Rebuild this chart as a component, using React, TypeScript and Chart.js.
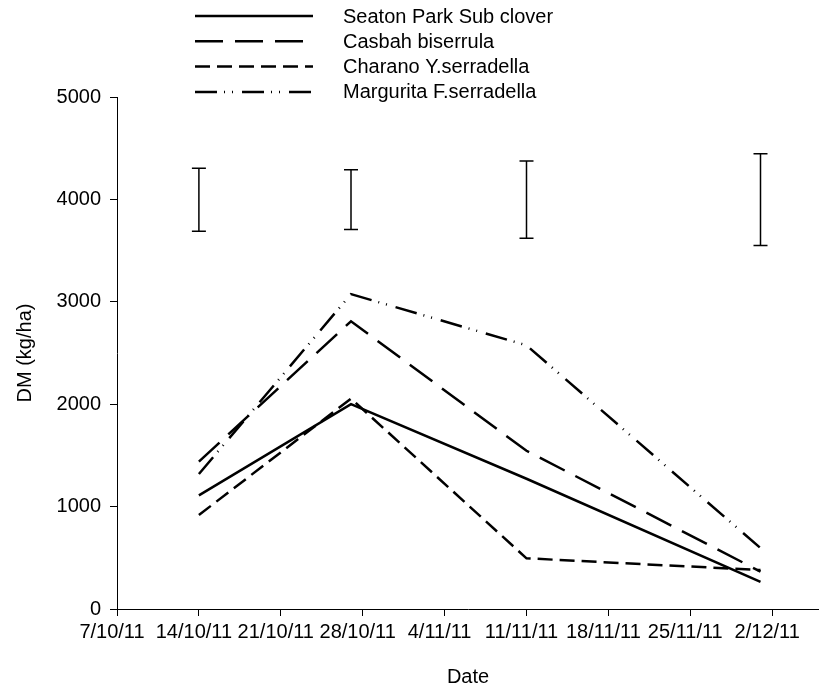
import React, { useEffect, useRef } from "react";
import { Chart, registerables } from "chart.js";

Chart.register(...registerables);

// ---- data ----
const axisStartDate = "7/10/11";
const axisEndDate = "6/12/11";
const xTickDates = ["7/10/11", "14/10/11", "21/10/11", "28/10/11", "4/11/11", "11/11/11", "18/11/11", "25/11/11", "2/12/11"];
const yTickValues = [0, 1000, 2000, 3000, 4000, 5000];
const sampleDates = ["14/10/11", "27/10/11", "11/11/11", "1/12/11"];

const seatonParkSubClover = [1110, 2000, 1272, 265];
const casbahBiserrula = [1440, 2810, 1545, 365];
const charanoYSerradella = [918, 2055, 495, 380];
const margaritaFSerradella = [1318, 3075, 2575, 595];

const errorLow = [3690, 3705, 3620, 3550];
const errorHigh = [4305, 4290, 4375, 4445];

const seriesNames = ["Seaton Park Sub clover", "Casbah biserrula", "Charano Y.serradella", "Margurita F.serradella"];

// ---- helpers ----
const DAY = 86400000;
function parseDate(s: string) {
  const [d, m, y] = s.split("/").map(Number);
  return Date.UTC(2000 + y, m - 1, d);
}
const origin = parseDate(axisStartDate);
const toDay = (s: string) => Math.round((parseDate(s) - origin) / DAY);
function formatDay(day: number) {
  const dt = new Date(origin + day * DAY);
  return `${dt.getUTCDate()}/${dt.getUTCMonth() + 1}/${String(dt.getUTCFullYear()).slice(2)}`;
}

const FONT_FAMILY = "'Liberation Sans', Arial, Helvetica, sans-serif";
const FONT_SIZE = 20;

const errorBarPlugin = {
  id: "errorBars",
  afterDatasetsDraw(chart: any) {
    const { ctx } = chart;
    const xs = chart.scales.x;
    const ys = chart.scales.y;
    ctx.save();
    ctx.strokeStyle = "#000";
    ctx.lineWidth = 1.5;
    ctx.setLineDash([]);
    sampleDates.forEach((d, i) => {
      const x = xs.getPixelForValue(toDay(d));
      const yl = ys.getPixelForValue(errorLow[i]);
      const yh = ys.getPixelForValue(errorHigh[i]);
      ctx.beginPath();
      ctx.moveTo(x, yl);
      ctx.lineTo(x, yh);
      ctx.moveTo(x - 7, yl);
      ctx.lineTo(x + 7, yl);
      ctx.moveTo(x - 7, yh);
      ctx.lineTo(x + 7, yh);
      ctx.stroke();
    });
    ctx.restore();
  },
};

const legendPlugin = {
  id: "customLegend",
  afterDraw(chart: any) {
    const { ctx } = chart;
    ctx.save();
    chart.data.datasets.forEach((ds: any, i: number) => {
      const y = 16 + i * 25.3;
      ctx.strokeStyle = "#000";
      ctx.lineWidth = ds.borderWidth;
      ctx.lineCap = "butt";
      ctx.setLineDash(ds.borderDash || []);
      ctx.beginPath();
      ctx.moveTo(195, y);
      ctx.lineTo(313, y);
      ctx.stroke();
      ctx.setLineDash([]);
      ctx.fillStyle = "#000";
      ctx.font = `${FONT_SIZE}px ${FONT_FAMILY}`;
      ctx.textBaseline = "middle";
      ctx.textAlign = "left";
      ctx.fillText(ds.label, 343, y + 1);
    });
    ctx.restore();
  },
};

export default function App() {
  const canvasRef = useRef<HTMLCanvasElement | null>(null);

  useEffect(() => {
    if (!canvasRef.current) return;
    const mk = (vals: number[]) => sampleDates.map((d, i) => ({ x: toDay(d), y: vals[i] }));
    const dashes: number[][] = [[], [28, 12], [15, 7], [22, 7, 1, 7, 1, 9]];
    const seriesValues = [seatonParkSubClover, casbahBiserrula, charanoYSerradella, margaritaFSerradella];

    const chart = new Chart(canvasRef.current, {
      type: "line",
      data: {
        datasets: seriesValues.map((vals, i) => ({
          label: seriesNames[i],
          data: mk(vals),
          borderColor: "#000",
          backgroundColor: "#000",
          borderWidth: 2.5,
          borderDash: dashes[i],
          borderCapStyle: "butt",
          pointRadius: 0,
          tension: 0,
          fill: false,
        })),
      },
      options: {
        responsive: false,
        animation: false,
        layout: { padding: { top: 97, right: 0, left: 0, bottom: 0 } },
        plugins: {
          legend: { display: false },
          tooltip: { enabled: false },
        },
        scales: {
          x: {
            type: "linear",
            min: 0,
            max: toDay(axisEndDate),
            afterBuildTicks: (scale: any) => {
              scale.ticks = xTickDates.map((d) => ({ value: toDay(d) }));
            },
            afterFit: (scale: any) => {
              scale.height = 84;
            },
            grid: {
              display: true,
              drawOnChartArea: false,
              drawTicks: true,
              tickLength: 7,
              tickColor: "#000",
              color: "#000",
            },
            border: { display: true, color: "#000", width: 1 },
            ticks: {
              color: "#000",
              font: { family: FONT_FAMILY, size: FONT_SIZE },
              padding: 4,
              labelOffset: -5,
              maxRotation: 0,
              autoSkip: false,
              callback: (v: any) => formatDay(Number(v)),
            },
            title: {
              display: true,
              text: "Date",
              color: "#000",
              font: { family: FONT_FAMILY, size: FONT_SIZE },
              padding: { top: 0, bottom: 4 },
            },
          },
          y: {
            type: "linear",
            min: 0,
            max: 5000,
            afterBuildTicks: (scale: any) => {
              scale.ticks = yTickValues.map((v) => ({ value: v }));
            },
            afterFit: (scale: any) => {
              scale.width = 117;
            },
            grid: {
              display: true,
              drawOnChartArea: false,
              drawTicks: true,
              tickLength: 7,
              tickColor: "#000",
              color: "#000",
            },
            border: { display: true, color: "#000", width: 1 },
            ticks: {
              color: "#000",
              font: { family: FONT_FAMILY, size: FONT_SIZE },
              padding: 9,
              callback: (v: any) => String(v),
            },
            title: {
              display: true,
              text: "DM (kg/ha)",
              color: "#000",
              font: { family: FONT_FAMILY, size: FONT_SIZE },
              padding: { top: 13, bottom: 0 },
            },
          },
        },
      },
      plugins: [errorBarPlugin, legendPlugin],
    } as any);

    return () => chart.destroy();
  }, []);

  return (
    <div style={{ position: "absolute", left: 0, top: 0, width: 819, height: 693, background: "#fff" }}>
      <canvas ref={canvasRef} width={819} height={693} style={{ display: "block" }} />
    </div>
  );
}
